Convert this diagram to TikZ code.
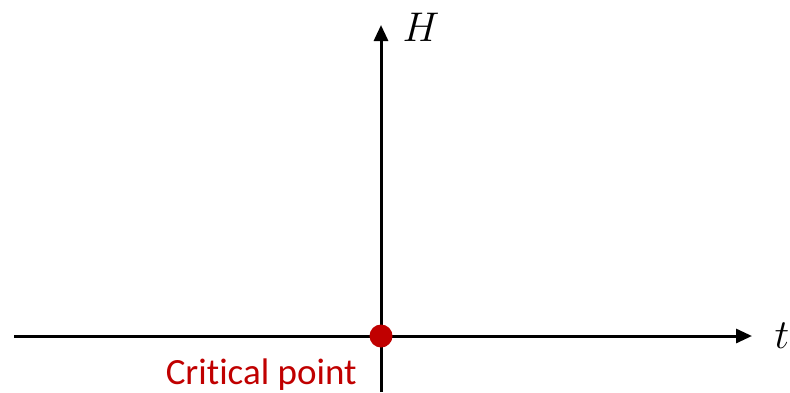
\documentclass[tikz,border=0pt]{standalone}
\usepackage{fontspec}
\setsansfont{Carlito}[Ligatures=NoCommon]
\usetikzlibrary{arrows.meta}
\definecolor{critred}{HTML}{C00000}

\begin{document}
\begin{tikzpicture}[x=0.5pt,y=0.5pt,
  axis/.style={line width=1.5pt,-{Triangle[length=8pt,width=7pt]}},
  crit/.style={circle,fill=critred,inner sep=0pt,minimum size=11.5pt}]
  \useasboundingbox (0,0) rectangle (790,392);
  % axes
  \coordinate (tstart) at (14,56);
  \coordinate (tend) at (752,56);
  \coordinate (hstart) at (381,0);
  \coordinate (hend) at (381,367);
  \draw[axis] (tstart) -- (tend);
  \draw[axis] (hstart) -- (hend);
  \node[font=\fontsize{20}{24}\selectfont] (tlab) at (782,56) {$t$};
  \node[font=\fontsize{20}{24}\selectfont] (hlab) at (421,365) {$H$};
  % critical point
  \node[crit] (cp) at (381,56) {};
  \node[critred,font=\sffamily\fontsize{18.5}{22}\selectfont,anchor=base east,inner sep=0pt] (cplab) at (357,8) {Critical point};
\end{tikzpicture}
\end{document}
